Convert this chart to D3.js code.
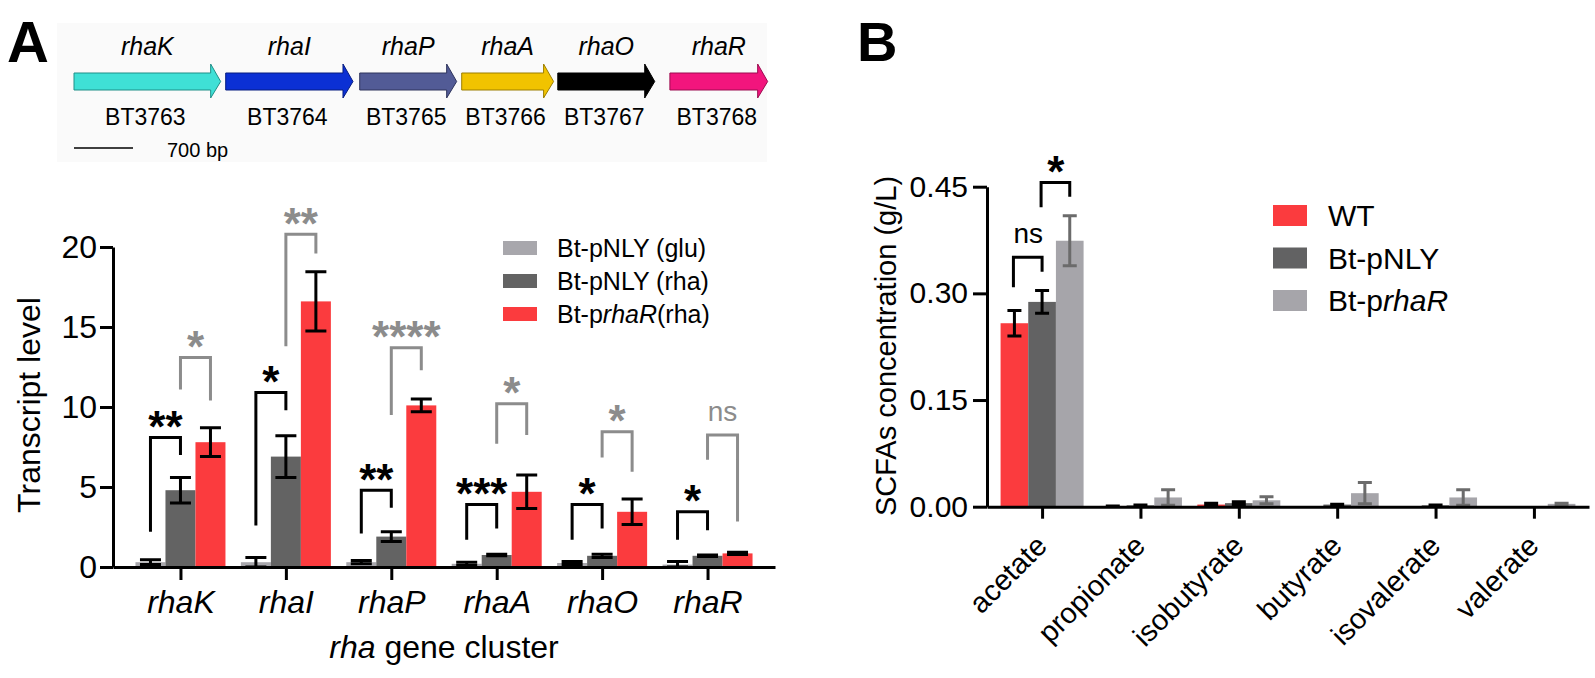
<!DOCTYPE html>
<html lang="en">
<head>
    <meta charset="UTF-8">
    <title>rha cluster transcripts and SCFAs</title>
    <script src="https://cdn.jsdelivr.net/npm/d3@7"></script>
    <style>
        body { margin: 0; background: #fff; }
        svg { display: block; }
        text { font-family: "Liberation Sans", Arial, sans-serif; }
    </style>
</head>
<body>
<svg id="fig" width="1595" height="678"></svg>
<script>
    /*---------------- gene cluster (positions in bp) ----------------*/
    const genes = ["rhaK", "rhaI", "rhaP", "rhaA", "rhaO", "rhaR"];
    const geneIds = ["BT3763", "BT3764", "BT3765", "BT3766", "BT3767", "BT3768"];
    const geneStartBp = [0, 1800, 3390, 4600, 5740, 7070];
    const geneEndBp = [1740, 3310, 4540, 5690, 6890, 8230];
    const scaleBarBp = 700;

    /*---------------- panel A: transcript level ----------------*/
    const seriesA = ["Bt-pNLY (glu)", "Bt-pNLY (rha)", "Bt-prhaR(rha)"];
    const gluMean = [0.3, 0.3, 0.3, 0.2, 0.25, 0.15];
    const gluErr = [0.15, 0.3, 0.1, 0.1, 0.1, 0.2];
    const rhaMean = [4.8, 6.9, 1.9, 0.75, 0.7, 0.7];
    const rhaErr = [0.8, 1.3, 0.3, 0.05, 0.1, 0.05];
    const prhaRMean = [7.8, 16.6, 10.1, 4.7, 3.45, 0.85];
    const prhaRErr = [0.9, 1.85, 0.4, 1.05, 0.8, 0.07];
    const ticksA = [0, 5, 10, 15, 20];

    // glu vs rha (black) and rha vs prhaR (grey) comparisons
    const sigGluRha = ["**", "*", "**", "***", "*", "*"];
    const sigGluRhaTop = [8.1, 10.9, 4.8, 3.9, 3.9, 3.45];
    const sigGluRhaLeft = [2.2, 2.6, 2.1, 1.7, 1.7, 1.7];
    const sigGluRhaRight = [7.0, 9.8, 3.7, 2.4, 2.4, 2.3];
    const sigRhaPrhaR = ["*", "**", "****", "*", "*", "ns"];
    const sigRhaPrhaRTop = [13.1, 20.8, 13.7, 10.2, 8.45, 8.25];
    const sigRhaPrhaRLeft = [11.1, 13.8, 9.5, 7.7, 6.85, 6.7];
    const sigRhaPrhaRRight = [10.4, 19.6, 12.3, 8.25, 5.95, 2.85];

    /*---------------- panel B: SCFAs ----------------*/
    const acids = ["acetate", "propionate", "isobutyrate", "butyrate", "isovalerate", "valerate"];
    const seriesB = ["WT", "Bt-pNLY", "Bt-prhaR"];
    const wtMean = [0.258, 0.001, 0.003, 0, 0, 0];
    const wtErr = [0.018, 0, 0.002, 0, 0, 0];
    const pnlyMean = [0.288, 0.002, 0.005, 0.003, 0.002, 0];
    const pnlyErr = [0.016, 0.0005, 0.002, 0.0005, 0.0005, 0];
    const prharMean = [0.374, 0.013, 0.009, 0.019, 0.013, 0.004];
    const prharErr = [0.035, 0.011, 0.005, 0.015, 0.011, 0.001];
    const ticksB = [0, 0.15, 0.30, 0.45];
    // acetate comparisons: WT vs Bt-pNLY, Bt-pNLY vs Bt-prhaR
    const sigB = ["ns", "*"];
    const sigBTop = [0.3507, 0.456];
    const sigBLeft = [0.3085, 0.421];
    const sigBRight = [0.3304, 0.436];

    /*---------------- styles ----------------*/
    const geneColors = ["#3fe0d6", "#0b30d4", "#525b96", "#f1c300", "#000000", "#f2157d"];
    const geneStroke = ["#1f8f88", "#061c80", "#2e345c", "#9c7e00", "#000000", "#9c0c50"];
    const colorsA = ["#a8a7ac", "#636363", "#fb3b3e"];
    const colorsB = ["#fb3b3e", "#626263", "#a6a5aa"];
    const errColorsB = ["#000", "#000", "#6b6b6b"];
    const grey = "#8c8c8c";

    const svg = d3.select("#fig");

    // panel letters
    svg.append("text").attr("x", 7).attr("y", 62).attr("font-size", 58).attr("font-weight", "bold").text("A");
    svg.append("text").attr("x", 857).attr("y", 61).attr("font-size", 56).attr("font-weight", "bold").text("B");

    /*------------------- gene map -------------------*/
    svg.append("rect").attr("x", 57).attr("y", 23).attr("width", 710).attr("height", 139).attr("fill", "#fafafa");
    const bp = d3.scaleLinear().domain([0, scaleBarBp]).range([74, 133]);
    const gm = svg.append("g");
    genes.forEach((g, i) => {
        const x0 = bp(geneStartBp[i]), x1 = bp(geneEndBp[i]), h = x1 - 10;
        gm.append("path")
            .attr("d", `M${x0},73 L${h},73 L${h},64 L${x1},81.5 L${h},98 L${h},90 L${x0},90 Z`)
            .attr("fill", geneColors[i]).attr("stroke", geneStroke[i]).attr("stroke-width", 1);
        gm.append("text").attr("x", (x0 + x1) / 2).attr("y", 55).attr("text-anchor", "middle")
            .attr("font-size", 25).attr("font-style", "italic").text(g);
        gm.append("text").attr("x", (x0 + x1) / 2 - 2).attr("y", 125).attr("text-anchor", "middle")
            .attr("font-size", 23).text(geneIds[i]);
    });
    gm.append("line").attr("x1", bp(0)).attr("x2", bp(scaleBarBp)).attr("y1", 148).attr("y2", 148)
        .attr("stroke", "#000").attr("stroke-width", 1.5);
    gm.append("text").attr("x", 167).attr("y", 157).attr("font-size", 20).text(scaleBarBp + " bp");

    /*------------------- helpers -------------------*/
    function styleAxis(g, fs) {
        g.attr("font-family", null).attr("font-size", fs);
        g.selectAll("path, line").attr("stroke", "#000").attr("stroke-width", 3);
        g.selectAll("text").attr("fill", "#000");
    }

    function bracket(g, xl, xr, yTop, yL, yR, color) {
        g.append("path")
            .attr("d", `M${xl},${yL} L${xl},${yTop} L${xr},${yTop} L${xr},${yR}`)
            .attr("fill", "none").attr("stroke", color).attr("stroke-width", 3);
    }

    function sigLabel(g, x, yTop, label, color) {
        const t = g.append("text").attr("x", x).attr("text-anchor", "middle").attr("fill", color);
        if (label === "ns") {
            t.attr("y", yTop - 14).attr("font-size", 28).text(label);
        } else {
            t.attr("y", yTop - 20 + 0.56 * 44).attr("font-size", 44).attr("font-weight", "bold").text(label);
        }
    }

    function errBar(g, x, yHi, yLo, cap, color) {
        g.append("path")
            .attr("d", `M${x - cap / 2},${yHi} H${x + cap / 2} M${x},${yHi} V${yLo} M${x - cap / 2},${yLo} H${x + cap / 2}`)
            .attr("fill", "none").attr("stroke", color).attr("stroke-width", 3);
    }

    /*------------------- panel A chart -------------------*/
    const xA = d3.scalePoint().domain(genes).range([113, 775]).padding(0.64);
    const yA = d3.scaleLinear().domain([0, 20]).range([567, 247]);
    const subA = d3.scaleBand().domain(seriesA).range([-45, 45]);
    const meansA = [gluMean, rhaMean, prhaRMean];
    const errsA = [gluErr, rhaErr, prhaRErr];

    const gA = svg.append("g");
    seriesA.forEach((s, si) => {
        genes.forEach((g, gi) => {
            gA.append("rect")
                .attr("x", xA(g) + subA(s)).attr("width", subA.bandwidth())
                .attr("y", yA(meansA[si][gi])).attr("height", yA(0) - yA(meansA[si][gi]))
                .attr("fill", colorsA[si]);
        });
    });
    seriesA.forEach((s, si) => {
        genes.forEach((g, gi) => {
            const m = meansA[si][gi], e = errsA[si][gi];
            errBar(gA, xA(g) + subA(s) + subA.bandwidth() / 2, yA(m + e), yA(Math.max(0, m - e)), 21, "#000");
        });
    });

    genes.forEach((g, gi) => {
        const cGlu = xA(g) + subA(seriesA[0]) + subA.bandwidth() / 2;
        const cRha = xA(g) + subA(seriesA[1]) + subA.bandwidth() / 2;
        const cPr = xA(g) + subA(seriesA[2]) + subA.bandwidth() / 2;
        bracket(gA, cGlu, cRha, yA(sigGluRhaTop[gi]), yA(sigGluRhaLeft[gi]), yA(sigGluRhaRight[gi]), "#000");
        sigLabel(gA, (cGlu + cRha) / 2, yA(sigGluRhaTop[gi]), sigGluRha[gi], "#000");
        bracket(gA, cRha, cPr, yA(sigRhaPrhaRTop[gi]), yA(sigRhaPrhaRLeft[gi]), yA(sigRhaPrhaRRight[gi]), grey);
        sigLabel(gA, (cRha + cPr) / 2, yA(sigRhaPrhaRTop[gi]), sigRhaPrhaR[gi], grey);
    });

    gA.append("g").attr("transform", "translate(113,0)")
        .call(d3.axisLeft(yA).tickValues(ticksA).tickSize(13).tickSizeOuter(0).tickPadding(3))
        .call(g => styleAxis(g, 32));
    gA.append("g").attr("transform", "translate(0,567)")
        .call(d3.axisBottom(xA).tickSize(13).tickSizeOuter(0).tickPadding(10))
        .call(g => styleAxis(g, 32))
        .call(g => g.selectAll(".tick text").attr("font-style", "italic").attr("dy", "0.71em"));

    gA.append("text").attr("transform", "translate(40,405) rotate(-90)")
        .attr("text-anchor", "middle").attr("font-size", 32).text("Transcript level");
    const xtA = gA.append("text").attr("x", 444).attr("y", 658).attr("text-anchor", "middle").attr("font-size", 32);
    xtA.append("tspan").attr("font-style", "italic").text("rha");
    xtA.append("tspan").text(" gene cluster");

    // legend A
    seriesA.forEach((s, i) => {
        const cy = 248 + i * 33;
        gA.append("rect").attr("x", 503).attr("y", cy - 7).attr("width", 34).attr("height", 14).attr("fill", colorsA[i]);
        const t = gA.append("text").attr("x", 557).attr("y", cy + 8.5).attr("font-size", 25);
        if (s.includes("rhaR")) {
            t.append("tspan").text("Bt-p");
            t.append("tspan").attr("font-style", "italic").text("rhaR");
            t.append("tspan").text("(rha)");
        } else {
            t.text(s);
        }
    });

    /*------------------- panel B chart -------------------*/
    const xB = d3.scalePoint().domain(acids).range([987, 1589]).padding(0.56);
    const yB = d3.scaleLinear().domain([0, 0.45]).range([506.7, 186.7]);
    const subB = d3.scaleBand().domain(seriesB).range([-41.5, 41.5]);
    const meansB = [wtMean, pnlyMean, prharMean];
    const errsB = [wtErr, pnlyErr, prharErr];

    const gB = svg.append("g");
    seriesB.forEach((s, si) => {
        acids.forEach((a, ai) => {
            gB.append("rect")
                .attr("x", xB(a) + subB(s)).attr("width", subB.bandwidth())
                .attr("y", yB(meansB[si][ai])).attr("height", yB(0) - yB(meansB[si][ai]))
                .attr("fill", colorsB[si]);
        });
    });
    seriesB.forEach((s, si) => {
        acids.forEach((a, ai) => {
            const m = meansB[si][ai], e = errsB[si][ai];
            if (m === 0 && e === 0) return;
            errBar(gB, xB(a) + subB(s) + subB.bandwidth() / 2, yB(m + e), yB(Math.max(0, m - e)), 14, errColorsB[si]);
        });
    });

    const cB = seriesB.map(s => xB(acids[0]) + subB(s) + subB.bandwidth() / 2);
    [[0, 1], [1, 2]].forEach(([l, r], k) => {
        bracket(gB, cB[l] - 1, cB[r], yB(sigBTop[k]), yB(sigBLeft[k]), yB(sigBRight[k]), "#000");
        sigLabel(gB, (cB[l] + cB[r]) / 2, yB(sigBTop[k]), sigB[k], "#000");
    });

    gB.append("g").attr("transform", "translate(987,0)")
        .call(d3.axisLeft(yB).tickValues(ticksB).tickFormat(d3.format(".2f")).tickSize(14).tickSizeOuter(0).tickPadding(5))
        .call(g => styleAxis(g, 30));
    gB.append("g").attr("transform", "translate(0,506.7)")
        .call(d3.axisBottom(xB).tickSize(12).tickSizeOuter(0))
        .call(g => styleAxis(g, 29))
        .call(g => g.selectAll(".tick text")
            .attr("y", null).attr("dy", null)
            .attr("text-anchor", "end")
            .attr("transform", "translate(6,41) rotate(-45)"));

    gB.append("text").attr("transform", "translate(896,346) rotate(-90)")
        .attr("text-anchor", "middle").attr("font-size", 29).text("SCFAs concentration (g/L)");

    // legend B
    seriesB.forEach((s, i) => {
        const top = 205 + i * 42.5;
        gB.append("rect").attr("x", 1273).attr("y", top).attr("width", 34).attr("height", 21).attr("fill", colorsB[i]);
        const t = gB.append("text").attr("x", 1328).attr("y", top + 21).attr("font-size", 30);
        if (s.includes("rhaR")) {
            t.append("tspan").text("Bt-p");
            t.append("tspan").attr("font-style", "italic").text("rhaR");
        } else {
            t.text(s);
        }
    });
</script>
</body>
</html>
